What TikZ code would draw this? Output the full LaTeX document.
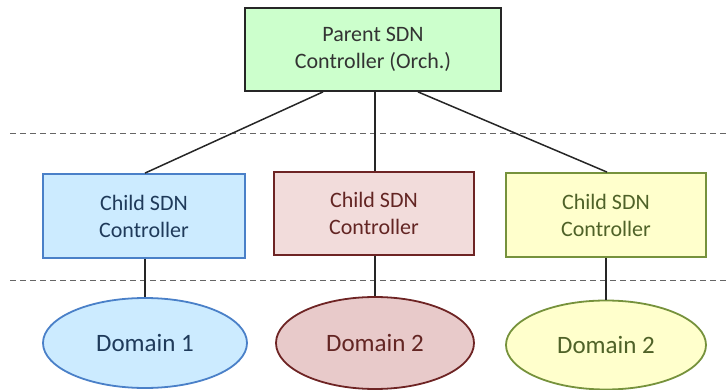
\documentclass[tikz,border=0pt]{standalone}
\usepackage{fontspec}
\setmainfont{Carlito}
\usetikzlibrary{shapes.geometric}
\definecolor{pgreen}{HTML}{CCFFCC}
\definecolor{cblue}{HTML}{CCEBFF}
\definecolor{cbluedraw}{HTML}{4A80C8}
\definecolor{cbluetext}{HTML}{1F3A5A}
\definecolor{cred}{HTML}{F2DCDB}
\definecolor{creddraw}{HTML}{6E2424}
\definecolor{credtext}{HTML}{632523}
\definecolor{credell}{HTML}{E8CACA}
\definecolor{cyel}{HTML}{FFFFCC}
\definecolor{cyeldraw}{HTML}{76923C}
\definecolor{cyeltext}{HTML}{4F6228}
\begin{document}
\begin{tikzpicture}[x=1pt,y=-1pt,
  box/.style={draw, line width=1.8pt, rectangle, inner sep=0pt, align=center, font=\fontsize{22}{27}\selectfont},
  dom/.style={draw, line width=1.8pt, ellipse, inner sep=0pt, font=\fontsize{25}{30}\selectfont},
  link/.style={line width=1.5pt, black!85},
  sep/.style={draw=black!60, line width=0.9pt, dash pattern=on 6pt off 4pt}]
\useasboundingbox (0,0) rectangle (726,390);
\node[box, fill=pgreen, draw=black!85, text=black!80, minimum width=256pt, minimum height=83pt] (p) at (373,49.5) {Parent SDN\\Controller (Orch.)};
\node[box, fill=cblue, draw=cbluedraw, text=cbluetext, minimum width=202pt, minimum height=84pt] (c1) at (144,216) {Child SDN\\Controller};
\node[box, fill=cred, draw=creddraw, text=credtext, minimum width=200pt, minimum height=83pt] (c2) at (374,213.5) {Child SDN\\Controller};
\node[box, fill=cyel, draw=cyeldraw, text=cyeltext, minimum width=200pt, minimum height=84pt] (c3) at (606,215) {Child SDN\\Controller};
\node[dom, fill=cblue, draw=cbluedraw, text=cbluetext, minimum width=204pt, minimum height=90pt] (d1) at (145,343) {Domain 1};
\node[dom, fill=credell, draw=creddraw, text=credtext, minimum width=198pt, minimum height=92pt] (d2) at (375,343) {Domain 2};
\node[dom, fill=cyel, draw=cyeldraw, text=cyeltext, minimum width=200pt, minimum height=89pt] (d3) at (606,345) {Domain 2};
\path[sep] (10,133) -- (726,133);
\path[sep] (10,280) -- (726,280);
\draw[link] (p.south -| 323,0) -- (c1.north -| 145,0);
\draw[link] (p.south -| 375,0) -- (c2.north -| 375,0);
\draw[link] (p.south -| 418,0) -- (c3.north -| 607,0);
\draw[link] (c1.south -| 145,0) -- (d1.north);
\draw[link] (c2.south -| 375,0) -- (d2.north);
\draw[link] (c3.south -| 606,0) -- (d3.north);
\end{tikzpicture}
\end{document}
